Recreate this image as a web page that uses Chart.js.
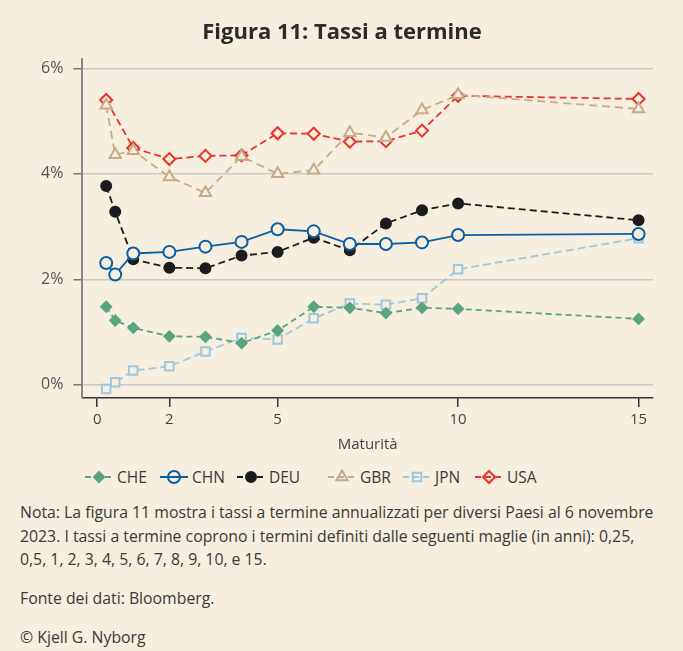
<!DOCTYPE html>
<html>
<head>
<meta charset="utf-8">
<script src="https://cdn.jsdelivr.net/npm/chart.js@4"></script>
<style>
  body { margin: 0; background: #f6eedf; width: 683px; height: 651px; overflow: hidden; font-family: "Open Sans", sans-serif; color: #3a3a3a; }
  #wrap { position: relative; width: 683px; height: 460px; }
  #legend { position: relative; height: 41px; }
  .item { position: absolute; top: 7px; height: 20px; display: flex; align-items: center; font-size: 15.5px; color: #3a3a3a; }
  .item canvas { margin-right: 4px; }
  #notes { padding-left: 20px; font-size: 15.8px; line-height: 23.5px; white-space: nowrap; }
  #notes p { margin: 0 0 15.5px 0; }
</style>
</head>
<body>
<div id="wrap"><canvas id="chart1" width="683" height="460"></canvas></div>
<div id="legend"></div>
<div id="notes">
  <p>Nota: La figura 11 mostra i tassi a termine annualizzati per diversi Paesi al 6 novembre<br>2023. I tassi a termine coprono i termini definiti dalle seguenti maglie (in anni): 0,25,<br>0,5, 1, 2, 3, 4, 5, 6, 7, 8, 9, 10, e 15.</p>
  <p>Fonte dei dati: Bloomberg.</p>
  <p>© Kjell G. Nyborg</p>
</div>
<script>
var maturities = [0.25, 0.5, 1, 2, 3, 4, 5, 6, 7, 8, 9, 10, 15];
var che = [1.48, 1.22, 1.08, 0.92, 0.91, 0.79, 1.03, 1.48, 1.46, 1.36, 1.46, 1.44, 1.25];
var chn = [2.31, 2.09, 2.49, 2.52, 2.62, 2.71, 2.95, 2.91, 2.67, 2.67, 2.70, 2.84, 2.86];
var deu = [3.77, 3.28, 2.38, 2.22, 2.21, 2.45, 2.52, 2.79, 2.55, 3.06, 3.31, 3.44, 3.12];
var gbr = [5.30, 4.36, 4.44, 3.94, 3.64, 4.33, 4.00, 4.07, 4.78, 4.69, 5.21, 5.50, 5.23];
var jpn = [-0.08, 0.05, 0.27, 0.35, 0.63, 0.89, 0.86, 1.26, 1.54, 1.52, 1.64, 2.19, 2.78];
var usa = [5.40, null, 4.49, 4.28, 4.34, 4.35, 4.77, 4.76, 4.61, 4.62, 4.82, 5.48, 5.42];
var xTicks = [0, 2, 5, 10, 15];
var yTicks = [0, 2, 4, 6];

var bg = '#f6eedf';
var font = '"Open Sans", sans-serif';

function serie(label, values, color, style, radius, filled, dash) {
  return {
    label: label,
    data: maturities.map(function (m, i) { return { x: m, y: values[i] }; }),
    borderColor: color,
    backgroundColor: color,
    borderWidth: 1.8,
    borderDash: dash,
    pointStyle: style,
    pointRadius: radius,
    pointBorderWidth: 2,
    pointBorderColor: color,
    pointBackgroundColor: filled ? color : bg,
    spanGaps: true,
    fill: false,
    tension: 0
  };
}

var datasets = [
  serie('CHE', che, '#5aa580', 'rectRot', 5, true, [6, 4]),
  serie('CHN', chn, '#0b5fa5', 'circle', 6, false, []),
  serie('DEU', deu, '#1c1c1c', 'circle', 5, true, [7, 4]),
  serie('GBR', gbr, '#c6ab88', 'triangle', 6.5, false, [8, 5]),
  serie('JPN', jpn, '#9fc8dc', 'rect', 6, false, [8, 4]),
  serie('USA', usa, '#e8342a', 'rectRot', 6, false, [7, 4])
];

new Chart(document.getElementById('chart1'), {
  type: 'line',
  data: { datasets: datasets },
  options: {
    responsive: false,
    animation: false,
    layout: { padding: { left: 31, right: 30, top: 0, bottom: 2 } },
    plugins: {
      legend: { display: false },
      tooltip: { enabled: false },
      title: {
        display: true,
        text: 'Figura 11: Tassi a termine',
        color: '#2b2b2b',
        font: { family: font, size: 22, weight: 'bold' },
        padding: { top: 20, bottom: 13 }
      }
    },
    scales: {
      x: {
        type: 'linear',
        min: -0.41,
        max: 15.4,
        afterBuildTicks: function (s) { s.ticks = xTicks.map(function (v) { return { value: v }; }); },
        ticks: { color: '#444', font: { family: font, size: 15 }, padding: 4, maxRotation: 0, autoSkip: false },
        grid: { drawOnChartArea: false, tickLength: 9, tickColor: '#333', lineWidth: 1.5 },
        border: { color: '#333', width: 1.5 },
        title: { display: true, text: 'Maturità', color: '#444', font: { family: font, size: 15 }, padding: { top: 3, bottom: 4 } }
      },
      y: {
        min: -0.25,
        max: 6.17,
        afterBuildTicks: function (s) { s.ticks = yTicks.map(function (v) { return { value: v }; }); },
        ticks: { color: '#555', font: { family: font, size: 16 }, padding: 10, callback: function (v) { return v + '%'; } },
        grid: { color: '#cacaca', lineWidth: 1.5, tickLength: 9, tickColor: '#777' },
        border: { color: '#888', width: 2 }
      }
    }
  }
});

// legend built by hand so item positions follow the picture
var legendLeft = [85, 160, 237, 328, 403, 475];
var legendDiv = document.getElementById('legend');
datasets.forEach(function (ds, i) {
  var item = document.createElement('div');
  item.className = 'item';
  item.style.left = legendLeft[i] + 'px';
  var c = document.createElement('canvas');
  c.width = 28; c.height = 20;
  var ctx = c.getContext('2d');
  ctx.strokeStyle = ds.borderColor;
  ctx.lineWidth = 2;
  ctx.setLineDash(ds.borderDash.length ? [6, 4] : []);
  ctx.beginPath(); ctx.moveTo(0, 10); ctx.lineTo(28, 10); ctx.stroke();
  ctx.setLineDash([]);
  ctx.fillStyle = ds.pointBackgroundColor === bg ? 'rgba(0,0,0,0)' : ds.borderColor;
  Chart.helpers.drawPoint(ctx, { pointStyle: ds.pointStyle, radius: ds.pointRadius, borderWidth: 2, rotation: 0 }, 14, 10);
  item.appendChild(c);
  var t = document.createElement('span');
  t.textContent = ds.label;
  item.appendChild(t);
  legendDiv.appendChild(item);
});
</script>
</body>
</html>
